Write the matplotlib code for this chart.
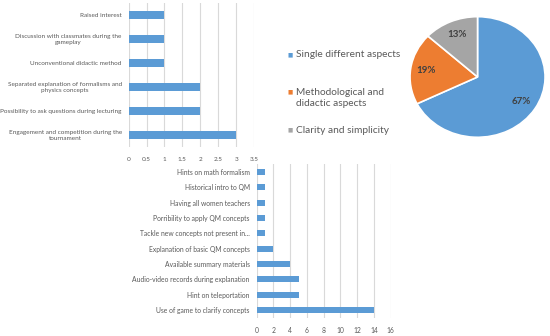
import matplotlib
matplotlib.use('Agg')
import matplotlib.pyplot as plt
import numpy as np

plt.rcParams['font.family'] = ['Lato', 'DejaVu Sans']

# Top bar chart: methodological and didactic aspects
top_labels = ['Raised interest',
              'Discussion with classmates during the\ngameplay',
              'Unconventional didactic method',
              'Separated explanation of formalisms and\nphysics concepts',
              'Possibility to ask questions during lecturing',
              'Engagement and competition during the\ntournament']
top_values = [1, 1, 1, 2, 2, 3]
top_ticks = [0, 0.5, 1, 1.5, 2, 2.5, 3, 3.5]

# Bottom bar chart: single different aspects
bottom_labels = ['Hints on math formalism',
                 'Historical intro to QM',
                 'Having all women teachers',
                 'Porribility to apply QM concepts',
                 'Tackle new concepts not present in...',
                 'Explanation of basic QM concepts',
                 'Available summary materials',
                 'Audio-video records during explanation',
                 'Hint on teleportation',
                 'Use of game to clarify concepts']
bottom_values = [1, 1, 1, 1, 1, 2, 4, 5, 5, 14]
bottom_ticks = [0, 2, 4, 6, 8, 10, 12, 14, 16]

# Pie chart
pie_labels = ['Single different aspects',
              'Methodological and\ndidactic aspects',
              'Clarity and simplicity']
pie_values = [67, 19, 13]

BLUE = '#5B9BD5'
ORANGE = '#ED7D31'
GRAY = '#A5A5A5'
TEXT = '#595959'
GRID = '#D9D9D9'

fig = plt.figure(figsize=(5.5, 3.36), dpi=100)


def style_bar_axes(ax, labels, ticks, size):
    for s in ax.spines.values():
        s.set_visible(False)
    ax.set_yticks(np.arange(len(labels)))
    ax.set_yticklabels(labels, fontsize=size, color=TEXT, multialignment='center')
    ax.set_xticks(ticks)
    ax.set_xticklabels([f'{t:g}' for t in ticks], fontsize=size, color=TEXT)
    ax.tick_params(axis='both', length=0)
    ax.tick_params(axis='y', pad=5)
    ax.tick_params(axis='x', pad=7)
    ax.xaxis.grid(True, color=GRID, linewidth=0.8)
    ax.set_axisbelow(True)
    ax.set_ylim(len(labels) - 0.5, -0.5)


ax1 = fig.add_axes([0.234, 0.5625, 0.2278, 0.4286])
ax1.barh(np.arange(len(top_labels)), top_values, height=0.36, color=BLUE)
ax1.set_xlim(0, 3.5)
style_bar_axes(ax1, top_labels, top_ticks, 4.6)

ax2 = fig.add_axes([0.4667, 0.0545, 0.2436, 0.4563])
ax2.barh(np.arange(len(bottom_labels)), bottom_values, height=0.4, color=BLUE)
ax2.set_xlim(0, 16)
style_bar_axes(ax2, bottom_labels, bottom_ticks, 4.9)

# Pie (slightly stretched like the original)
ax3 = fig.add_axes([0.7455, 0.5914, 0.2455, 0.359])
wedges, _ = ax3.pie(pie_values, colors=[BLUE, ORANGE, GRAY], startangle=90,
                    counterclock=False,
                    wedgeprops=dict(edgecolor='white', linewidth=1.2))
ax3.set_aspect('auto')
ax3.set_xlim(-1, 1)
ax3.set_ylim(-1, 1)
# percentage labels at the middle of each wedge
start = 90
total = sum(pie_values)
for v in pie_values:
    mid = np.deg2rad(start - v / total * 180)
    ax3.text(0.77 * np.cos(mid), 0.77 * np.sin(mid), f'{v}%', ha='center',
             va='center', fontsize=7, fontweight='bold', color='#404040')
    start -= v / total * 360

# Legend
marker_y = [0.838, 0.727, 0.613]
text_y = [0.838, 0.708, 0.613]
for w, lab, my, ty in zip(wedges, pie_labels, marker_y, text_y):
    fig.text(0.522, my, '\u25A0', fontsize=4, color=w.get_facecolor(),
             ha='left', va='center', family='DejaVu Sans')
    fig.text(0.538, ty, lab, fontsize=7.3, color=TEXT, ha='left', va='center',
             linespacing=1.3)

fig.savefig('out.png', dpi=100)
